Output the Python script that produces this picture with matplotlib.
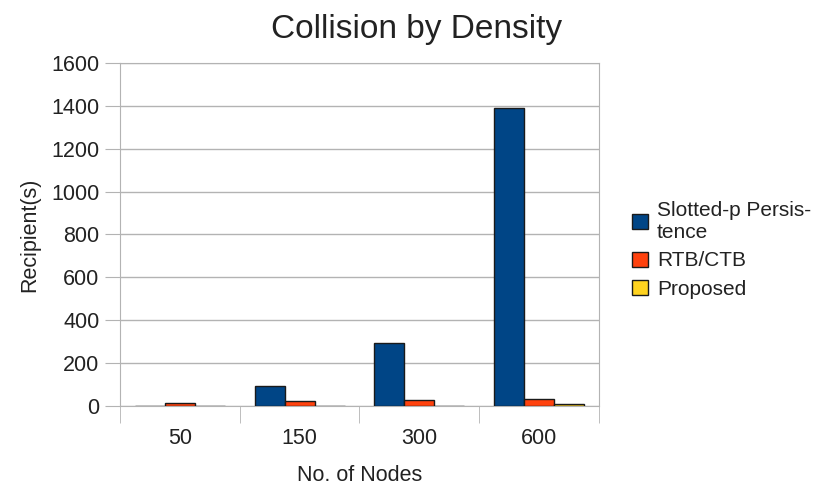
import numpy as np
import matplotlib.pyplot as plt

plt.rcParams['font.family'] = ['Liberation Sans', 'DejaVu Sans']

categories = ['50', '150', '300', '600']
slotted = [0, 94, 292, 1388]
rtb_ctb = [14, 26, 31, 35]
proposed = [1, 1, 1, 12]
labels = ['Slotted-p Persis-\ntence', 'RTB/CTB', 'Proposed']
colors = ['#004586', '#ff420e', '#ffd320']

fig = plt.figure(figsize=(8.17, 4.87), dpi=100)
ax = fig.add_axes([0.147, 0.166, 0.586, 0.705])

x = np.arange(len(categories))
w = 0.25
for i, (vals, lab, c) in enumerate(zip([slotted, rtb_ctb, proposed], labels, colors)):
    ax.bar(x + (i - 1) * w, vals, w, color=c, edgecolor='#1a1a1a', linewidth=1, label=lab, zorder=3)

ax.set_xlim(-0.5, len(categories) - 0.5)
ax.set_ylim(0, 1600)
ax.set_yticks(np.arange(0, 1601, 200))
ax.set_xticks(x)
ax.set_xticklabels(categories)
ax.set_xticks(np.arange(-0.5, len(categories)), minor=True)
ax.grid(axis='y', color='#b3b3b3', linewidth=1, zorder=0)
for s in ax.spines.values():
    s.set_color('#b3b3b3')
ax.tick_params(axis='x', which='major', length=0, labelsize=15.5, pad=16, labelcolor='#222222')
ax.tick_params(axis='x', which='minor', length=12, color='#b3b3b3')
ax.tick_params(axis='y', length=11, color='#b3b3b3', labelsize=15.5, pad=4, labelcolor='#222222')

fig.suptitle('Collision by Density', fontsize=24, x=0.51, y=0.972, color='#222222')
ax.set_xlabel('No. of Nodes', fontsize=15.5, labelpad=11, color='#222222')
ax.set_ylabel('Recipient(s)', fontsize=15.5, labelpad=8, color='#222222')

leg = ax.legend(loc='center left', bbox_to_anchor=(1.03, 0.455), frameon=False, fontsize=15,
                handlelength=0.75, handleheight=0.75, handletextpad=0.45, labelspacing=0.45)
for t in leg.get_texts():
    t.set_color('#222222')

fig.savefig('out.png', dpi=100)
